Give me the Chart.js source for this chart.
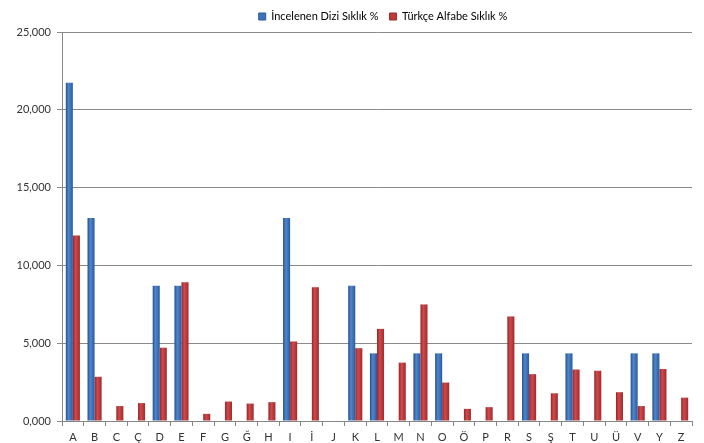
<!DOCTYPE html>
<html><head><meta charset="utf-8">
<script src="https://cdn.jsdelivr.net/npm/chart.js@4"></script>
<style>html,body{margin:0;padding:0;background:#fff}#wrap{width:704px;height:443px}</style>
</head><body><div id="wrap"><canvas id="c" width="704" height="443"></canvas></div>
<script>
const categories = ["A","B","C","Ç","D","E","F","G","Ğ","H","I","İ","J","K","L","M","N","O","Ö","P","R","S","Ş","T","U","Ü","V","Y","Z"];
const incelenenDizi = [21.739,13.043,0,0,8.696,8.696,0,0,0,0,13.043,0,0,8.696,4.348,0,4.348,4.348,0,0,0,4.348,0,4.348,0,0,4.348,4.348,0];
const turkceAlfabe = [11.92,2.84,0.96,1.15,4.71,8.91,0.46,1.25,1.12,1.21,5.11,8.60,0.03,4.68,5.92,3.75,7.49,2.47,0.78,0.89,6.72,3.01,1.78,3.31,3.23,1.85,0.96,3.34,1.50];
const seriesNames = ["İncelenen Dizi Sıklık %","Türkçe Alfabe Sıklık %"];
const yTicks = [0,5,10,15,20,25];

function grad(stops){
  return (ctx)=>{
    const el = ctx.element;
    const chart = ctx.chart;
    if(!el || el.width===undefined || isNaN(el.x) || isNaN(el.width)) return stops[1];
    const x0 = el.x - el.width/2, x1 = el.x + el.width/2;
    const g = chart.ctx.createLinearGradient(x0,0,x1,0);
    g.addColorStop(0,stops[0]); g.addColorStop(0.4,stops[1]); g.addColorStop(1,stops[2]);
    return g;
  };
}
const blueStops = ["#25508f","#4f86cc","#2a5a9e"];
const redStops = ["#92262a","#d2494b","#9e2b2d"];

const shiftLegend = {
  id:'shiftLegend',
  afterLayout(chart){ const l = chart.legend; if(l){ l.left += 35; l.right += 35; } }
};

const chart = new Chart(document.getElementById('c'),{
  type:'bar',
  data:{labels:categories,datasets:[
    {label:seriesNames[0],data:incelenenDizi,backgroundColor:grad(blueStops),borderWidth:0},
    {label:seriesNames[1],data:turkceAlfabe,backgroundColor:grad(redStops),borderWidth:0}
  ]},
  plugins:[shiftLegend],
  options:{
    responsive:false,animation:false,
    layout:{padding:{left:4,right:12,top:0,bottom:0}},
    datasets:{bar:{categoryPercentage:0.65,barPercentage:1.0}},
    plugins:{
      legend:{position:'top',labels:{font:{family:'Lato',size:11},color:'#333',boxWidth:7,boxHeight:7,padding:11,
        generateLabels:(chart)=>chart.data.datasets.map((d,i)=>({text:d.label,fillStyle:i===0?'#3f73b8':'#c0393b',strokeStyle:i===0?'#2a5a9c':'#9c2a28',lineWidth:1,datasetIndex:i,hidden:false}))}},
      tooltip:{enabled:false}
    },
    scales:{
      x:{grid:{display:true,drawOnChartArea:false,drawTicks:true,tickLength:5,color:'#868686',offset:true},
         border:{color:'#868686'},
         afterFit:(s)=>{s.height=22;},
         ticks:{font:{family:'Lato',size:11},color:'#333',padding:5,maxRotation:0,autoSkip:false}},
      y:{min:0,max:25,afterBuildTicks:(s)=>{s.ticks=yTicks.map(v=>({value:v}));},
         grid:{color:'#8a8a8a',tickLength:5,drawTicks:true},
         border:{color:'#868686'},
         afterFit:(s)=>{s.width=58;},
         ticks:{font:{family:'Lato',size:11},color:'#333',padding:6,callback:(v)=>v.toFixed(3).replace('.',',')}}
    }
  }
});
chart.update();
</script></body></html>
